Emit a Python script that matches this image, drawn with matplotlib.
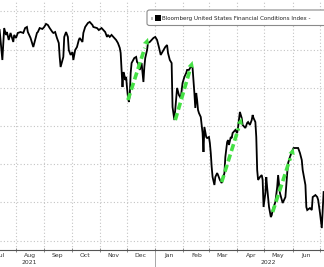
import numpy as np
import pandas as pd
import matplotlib
matplotlib.use("Agg")
import matplotlib.pyplot as plt
import matplotlib.dates as mdates
from matplotlib.transforms import blended_transform_factory
from matplotlib.patches import FancyBboxPatch, Rectangle

plt.rcParams['font.family'] = ['DejaVu Sans']

# Bloomberg US Financial Conditions Index
dates = [
    '2021-07-14', '2021-07-17', '2021-07-19', '2021-07-21', '2021-07-22', '2021-07-24',
    '2021-07-26', '2021-07-29', '2021-07-30', '2021-08-01', '2021-08-03', '2021-08-06',
    '2021-08-09', '2021-08-11', '2021-08-13', '2021-08-14', '2021-08-17', '2021-08-20',
    '2021-08-22', '2021-08-24', '2021-08-25', '2021-08-27', '2021-08-30', '2021-09-01',
    '2021-09-03', '2021-09-05', '2021-09-07', '2021-09-10', '2021-09-11', '2021-09-13',
    '2021-09-15', '2021-09-17', '2021-09-18', '2021-09-19', '2021-09-22', '2021-09-23',
    '2021-09-25', '2021-09-27', '2021-09-28', '2021-09-30', '2021-10-02', '2021-10-03',
    '2021-10-05', '2021-10-07', '2021-10-09', '2021-10-10', '2021-10-13', '2021-10-14',
    '2021-10-16', '2021-10-19', '2021-10-21', '2021-10-24', '2021-10-25', '2021-10-29',
    '2021-10-31', '2021-11-03', '2021-11-05', '2021-11-07', '2021-11-09', '2021-11-10',
    '2021-11-12', '2021-11-14', '2021-11-16', '2021-11-19', '2021-11-21', '2021-11-23',
    '2021-11-24', '2021-11-25', '2021-11-26', '2021-11-27', '2021-11-28', '2021-11-29',
    '2021-11-30', '2021-12-01', '2021-12-02', '2021-12-03', '2021-12-04', '2021-12-05',
    '2021-12-06', '2021-12-09', '2021-12-11', '2021-12-12', '2021-12-13', '2021-12-15',
    '2021-12-17', '2021-12-19', '2021-12-20', '2021-12-21', '2021-12-23', '2021-12-24',
    '2021-12-26', '2021-12-28', '2021-12-30', '2022-01-01', '2022-01-03', '2022-01-05',
    '2022-01-07', '2022-01-10', '2022-01-12', '2022-01-14', '2022-01-15', '2022-01-17',
    '2022-01-19', '2022-01-20', '2022-01-22', '2022-01-24', '2022-01-25', '2022-01-27',
    '2022-01-29', '2022-01-31', '2022-02-02', '2022-02-04', '2022-02-05', '2022-02-07',
    '2022-02-09', '2022-02-10', '2022-02-11', '2022-02-13', '2022-02-14', '2022-02-15',
    '2022-02-16', '2022-02-17', '2022-02-18', '2022-02-20', '2022-02-21', '2022-02-22',
    '2022-02-23', '2022-02-24', '2022-02-26', '2022-02-27', '2022-03-01', '2022-03-02',
    '2022-03-03', '2022-03-04', '2022-03-05', '2022-03-07', '2022-03-08', '2022-03-10',
    '2022-03-11', '2022-03-13', '2022-03-15', '2022-03-16', '2022-03-18', '2022-03-19',
    '2022-03-21', '2022-03-22', '2022-03-23', '2022-03-25', '2022-03-26', '2022-03-27',
    '2022-03-30', '2022-04-01', '2022-04-02', '2022-04-04', '2022-04-06', '2022-04-07',
    '2022-04-10', '2022-04-12', '2022-04-13', '2022-04-15', '2022-04-17', '2022-04-18',
    '2022-04-19', '2022-04-21', '2022-04-22', '2022-04-23', '2022-04-24', '2022-04-26',
    '2022-04-28', '2022-04-29', '2022-04-30', '2022-05-02', '2022-05-03', '2022-05-04',
    '2022-05-05', '2022-05-06', '2022-05-08', '2022-05-09', '2022-05-10', '2022-05-13',
    '2022-05-15', '2022-05-16', '2022-05-18', '2022-05-20', '2022-05-21', '2022-05-24',
    '2022-05-26', '2022-05-27', '2022-05-29', '2022-05-31', '2022-06-02', '2022-06-06',
    '2022-06-07', '2022-06-09', '2022-06-11', '2022-06-12', '2022-06-15', '2022-06-16',
    '2022-06-17', '2022-06-20', '2022-06-22', '2022-06-23', '2022-06-26', '2022-06-28',
    '2022-06-29', '2022-07-01', '2022-07-03', '2022-07-04', '2022-07-05',
]
fci = [
    0.628, 0.432, 0.641, 0.596, 0.615, 0.563,
    0.609, 0.550, 0.596, 0.576, 0.609, 0.615,
    0.609, 0.641, 0.648, 0.615, 0.576, 0.517,
    0.563, 0.609, 0.615, 0.641, 0.635, 0.648,
    0.668, 0.661, 0.641, 0.615, 0.609, 0.615,
    0.576, 0.543, 0.452, 0.386, 0.452, 0.583,
    0.615, 0.583, 0.497, 0.465, 0.484, 0.432,
    0.497, 0.517, 0.563, 0.576, 0.550, 0.609,
    0.648, 0.674, 0.681, 0.661, 0.648, 0.641,
    0.628, 0.641, 0.628, 0.615, 0.583, 0.596,
    0.583, 0.596, 0.583, 0.563, 0.543, 0.511,
    0.478, 0.367, 0.255, 0.353, 0.334, 0.301,
    0.321, 0.249, 0.190, 0.157, 0.203, 0.347,
    0.412, 0.445, 0.452, 0.419, 0.412, 0.367,
    0.412, 0.288, 0.386, 0.445, 0.497, 0.543,
    0.550, 0.563, 0.576, 0.583, 0.563, 0.517,
    0.465, 0.497, 0.517, 0.530, 0.478, 0.432,
    0.412, 0.124, 0.039, 0.183, 0.249, 0.203,
    0.183, 0.281, 0.321, 0.347, 0.367, 0.367,
    0.386, 0.399, 0.380, 0.216, 0.118, 0.216,
    0.170, 0.105, 0.085, 0.059, 0.007, -0.046,
    -0.170, -0.007, -0.072, -0.079, -0.072, -0.111,
    -0.177, -0.268, -0.334, -0.386, -0.334, -0.308,
    -0.321, -0.353, -0.373, -0.353, -0.308, -0.203,
    -0.105, -0.092, -0.124, -0.072, -0.079, -0.046,
    -0.026, -0.046, -0.007, 0.092, 0.052, 0.007,
    -0.013, 0.020, 0.026, 0.007, 0.039, 0.072,
    0.052, 0.026, -0.072, -0.288, -0.353, -0.334,
    -0.321, -0.353, -0.530, -0.439, -0.334, -0.406,
    -0.465, -0.530, -0.596, -0.583, -0.550, -0.497,
    -0.399, -0.321, -0.439, -0.484, -0.504, -0.465,
    -0.308, -0.242, -0.203, -0.170, -0.144, -0.144,
    -0.144, -0.177, -0.223, -0.288, -0.386, -0.530,
    -0.550, -0.537, -0.550, -0.465, -0.452, -0.465,
    -0.484, -0.569, -0.668, -0.550, -0.432,
]

# green "relief rally" arrows: (start date, start value, end date, end value)
arrow_start_dates = ['2021-12-02', '2022-01-23', '2022-03-15', '2022-05-10']
arrow_start_vals = [0.170, 0.039, -0.367, -0.563]
arrow_end_dates = ['2021-12-24', '2022-02-11', '2022-04-06', '2022-06-02']
arrow_end_vals = [0.576, 0.425, 0.052, -0.144]

legend_label = 'Bloomberg United States Financial Conditions Index -'
year_labels = ['2021', '2022']
year_label_dates = ['2021-08-16', '2022-05-05']

x = pd.to_datetime(dates)
W, H = 324, 267

fig = plt.figure(figsize=(W / 100, H / 100), dpi=100)
ax = fig.add_axes([0, 17 / H, 1, 250 / H])

ax.plot(x, fci, color='black', lw=1.3, zorder=3, solid_joinstyle='miter')

green = '#45e045'
for sd, sv, ed, ev in zip(arrow_start_dates, arrow_start_vals, arrow_end_dates, arrow_end_vals):
    s = mdates.date2num(pd.Timestamp(sd))
    e = mdates.date2num(pd.Timestamp(ed))
    # stop the dashes a bit short, the head covers the rest
    ms = s + (e - s) * 0.84
    mv = sv + (ev - sv) * 0.84
    ax.plot([s, ms], [sv, mv], color=green, lw=2.6, dashes=(2.0, 1.0), zorder=4,
            solid_capstyle='butt')
    ax.annotate('', xy=(e, ev), xytext=(ms, mv),
                arrowprops=dict(arrowstyle='-|>', color=green, lw=0.1,
                                mutation_scale=11, shrinkA=0, shrinkB=0), zorder=4)

ax.set_xlim(pd.Timestamp('2021-07-14 10:00'), pd.Timestamp('2022-07-05 10:00'))
ax.set_ylim(-0.8115, 0.8246)

ax.xaxis.set_major_locator(mdates.MonthLocator())
ax.xaxis.set_major_formatter(plt.NullFormatter())
ax.xaxis.set_minor_locator(mdates.MonthLocator(bymonthday=16))
ax.xaxis.set_minor_formatter(mdates.DateFormatter('%b'))
ax.set_yticks(np.arange(-0.75, 0.76, 0.25))
ax.tick_params(axis='y', left=False, labelleft=False)
ax.tick_params(axis='x', which='major', direction='inout', length=3, width=0.6, color='#777')
ax.tick_params(axis='x', which='minor', length=0, pad=2, labelsize=4.4, labelcolor='#333')

ax.grid(True, which='major', color='#c4c4c4', lw=0.8, linestyle=(0, (1, 2)))
for side in ['top', 'left', 'right']:
    ax.spines[side].set_visible(False)
ax.spines['bottom'].set_color('#555')
ax.spines['bottom'].set_linewidth(0.8)

tr = blended_transform_factory(ax.transData, ax.transAxes)
for lab, d in zip(year_labels, year_label_dates):
    ax.text(pd.Timestamp(d), -0.052, lab, transform=tr, ha='center', va='center',
            fontsize=4.4, color='#333', clip_on=False)
ax.plot([pd.Timestamp('2022-01-01')] * 2, [0, -0.07], transform=tr, color='#999',
        lw=0.6, clip_on=False)

# legend box (cut off at the right edge like the original)
box = FancyBboxPatch((147 / W, (H - 25.5) / H), 200 / W, 15.5 / H,
                     boxstyle='round,pad=0,rounding_size=0.008',
                     transform=fig.transFigure, facecolor='white',
                     edgecolor='#8a8a8a', lw=0.8, zorder=5)
fig.patches.append(box)
fig.patches.append(Rectangle((150.5 / W, (H - 20) / H), 2.8 / W, 2.8 / H,
                             transform=fig.transFigure, facecolor='#bbbbbb',
                             edgecolor='none', zorder=6))
fig.patches.append(Rectangle((155 / W, (H - 21) / H), 5.7 / W, 6 / H,
                             transform=fig.transFigure, facecolor='black',
                             edgecolor='none', zorder=6))
fig.text(162.5 / W, (H - 18) / H, legend_label, fontsize=4.1, color='#222',
         ha='left', va='center', zorder=7)

fig.savefig('out.png', dpi=100, facecolor='white')
